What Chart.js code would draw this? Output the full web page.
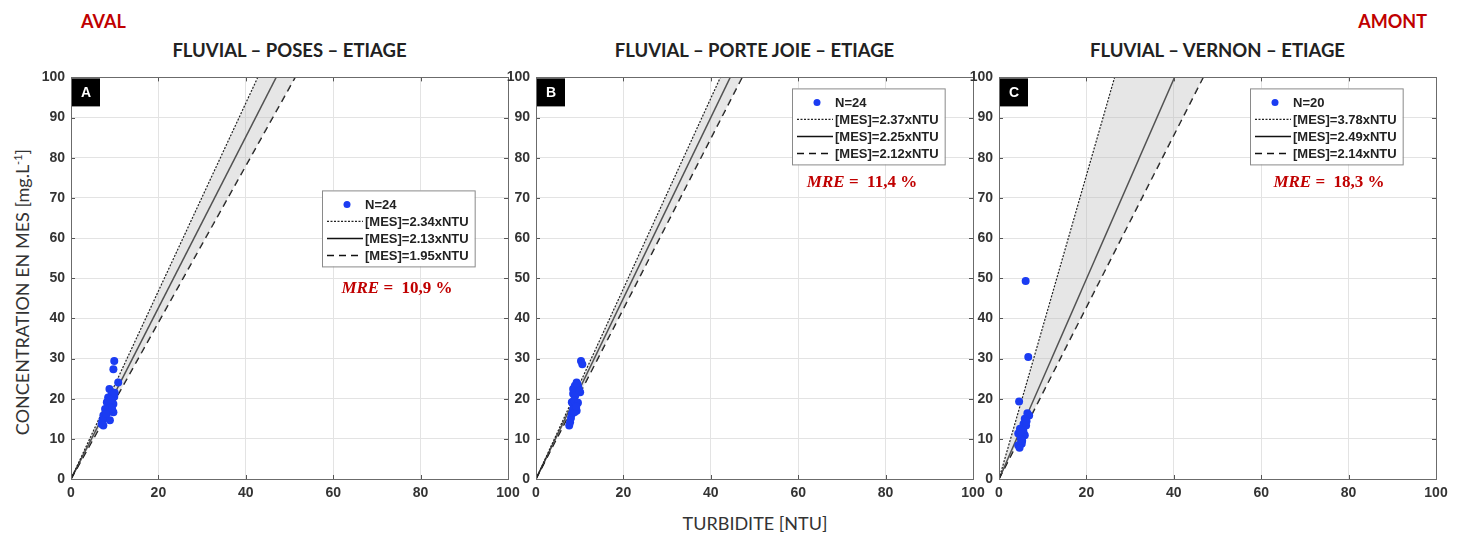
<!DOCTYPE html>
<html>
<head>
<meta charset="utf-8">
<script src="https://cdn.jsdelivr.net/npm/chart.js@4.4.1/dist/chart.umd.min.js"></script>
<style>
  body { margin: 0; background: #fff; width: 1464px; height: 537px; position: relative; overflow: hidden; font-family: 'Lato', sans-serif; }
  canvas { position: absolute; top: 63px; }
  .titre { position: absolute; top: 38px; width: 437px; text-align: center; font: bold 18.5px 'Lato'; color: #222; line-height: 24px; }
  .rive { position: absolute; top: 9px; font: bold 18px 'Lato'; color: #c00000; line-height: 24px; }
  .axe-x { position: absolute; top: 511px; left: 555px; width: 400px; text-align: center; font: 18px 'Lato'; color: #333; line-height: 24px; }
  .axe-y { position: absolute; top: 278px; left: -180px; width: 400px; text-align: center; font: 18px 'Lato'; color: #333; line-height: 24px; transform: rotate(-90deg); }
</style>
</head>
<body>
<div class="rive" style="left:81px">AVAL</div>
<div class="rive" style="right:37px">AMONT</div>
<div class="titre" style="left:71px" id="t0"></div>
<div class="titre" style="left:536px" id="t1"></div>
<div class="titre" style="left:999px" id="t2"></div>
<div class="axe-y">CONCENTRATION EN MES [mg.L<sup style="font-size:11px">-1</sup>]</div>
<div class="axe-x">TURBIDITE [NTU]</div>
<canvas id="g0" width="497" height="446" style="left:31px"></canvas>
<canvas id="g1" width="497" height="446" style="left:496px"></canvas>
<canvas id="g2" width="497" height="446" style="left:959px"></canvas>
<script>
// ==============================
// DONNEES
// ==============================
const lettres = ['A', 'B', 'C'];
const titres = ['FLUVIAL – POSES – ETIAGE', 'FLUVIAL – PORTE JOIE – ETIAGE', 'FLUVIAL – VERNON – ETIAGE'];

const turbA = [9.9, 9.7, 10.8, 8.8, 9.3, 8.5, 9.9, 8.2, 9.7, 8.9, 7.8, 9.7, 8.5, 7.4, 8.0, 8.9, 7.2, 7.0, 7.4, 8.6, 9.1, 8.0, 9.4, 10.0];
const mesA  = [29.4, 27.3, 24.0, 22.4, 21.2, 20.3, 20.5, 19.1, 18.7, 17.9, 17.4, 16.6, 16.6, 15.8, 15.3, 14.6, 14.6, 13.7, 13.3, 19.5, 19.8, 16.2, 17.5, 21.5];

const turbB = [10.3, 10.6, 9.3, 8.9, 9.7, 8.5, 9.3, 8.5, 10.1, 9.0, 8.2, 9.0, 8.5, 9.3, 8.2, 7.8, 7.6, 9.5, 9.9, 8.7, 9.6, 8.8, 8.0, 9.2];
const mesB  = [29.4, 28.6, 24.0, 23.2, 22.8, 22.4, 21.6, 21.2, 21.6, 20.8, 19.1, 18.7, 17.4, 17.0, 16.2, 14.1, 13.3, 23.5, 22.0, 19.6, 19.0, 16.6, 15.2, 18.0];

const turbC = [6.1, 6.7, 4.6, 6.5, 6.9, 5.9, 5.6, 6.2, 4.8, 5.6, 4.4, 5.9, 5.0, 5.2, 4.4, 4.7, 5.5, 6.3, 5.3, 4.9];
const mesC  = [49.3, 30.4, 19.3, 16.4, 15.8, 15.0, 13.7, 13.3, 12.5, 11.7, 11.3, 10.9, 10.0, 8.8, 8.4, 7.8, 12.2, 14.4, 9.5, 11.9];

// pentes : borne haute (pointillé), ajustement (trait plein), borne basse (tirets)
const pentesA = [2.34, 2.13, 1.95];
const pentesB = [2.37, 2.25, 2.12];
const pentesC = [3.78, 2.49, 2.14];

const effectifs = [24, 24, 20];
const mre = ['10,9', '11,4', '18,3'];

const ticksX = [0, 20, 40, 60, 80, 100];
const ticksY = [0, 10, 20, 30, 40, 50, 60, 70, 80, 90, 100];

// ==============================
// STYLES
// ==============================
const bleu = '#1b3cf2';
const rouge = '#c00000';
const grille = '#e3e3e3';
const cadre = '#6b6b6b';
const styles = [
    { borderDash: [2, 1.5], borderWidth: 1.2, borderColor: '#222' },
    { borderDash: [], borderWidth: 1.5, borderColor: '#111' },
    { borderDash: [7, 5], borderWidth: 1.5, borderColor: '#111' }
];
// position de la légende et du MRE par rapport au coin haut-gauche du cadre
const posLegende = [[251, 113], [256, 11], [251, 11]];
const posMre = [[326, 211], [326, 105], [330, 105]];

const droite = p => [{ x: 0, y: 0 }, { x: ticksX[ticksX.length - 1], y: p * ticksX[ticksX.length - 1] }];

function dessinerLegende(ctx, x, y, n, pentes) {
    const lignes = ['N=' + n].concat(pentes.map(p => '[MES]=' + p.toFixed(2) + 'xNTU'));
    ctx.font = 'bold 13px "Liberation Sans"';
    const w = 43 + Math.max(...lignes.map(l => ctx.measureText(l).width)) + 6;
    const h = 76;
    ctx.fillStyle = '#fff';
    ctx.fillRect(x, y, w, h);
    ctx.strokeStyle = '#8a8a8a';
    ctx.lineWidth = 1;
    ctx.strokeRect(x + 0.5, y + 0.5, w, h);

    ctx.textBaseline = 'middle';
    ctx.textAlign = 'left';
    lignes.forEach((l, k) => {
        const yy = y + 14 + k * 17;
        if (k === 0) {
            ctx.fillStyle = bleu;
            ctx.beginPath();
            ctx.arc(x + 25, yy, 3.5, 0, Math.PI * 2);
            ctx.fill();
        } else {
            const s = styles[k - 1];
            ctx.save();
            ctx.setLineDash(s.borderDash);
            ctx.lineWidth = s.borderWidth;
            ctx.strokeStyle = s.borderColor;
            ctx.beginPath();
            ctx.moveTo(x + 5, yy);
            ctx.lineTo(x + 41, yy);
            ctx.stroke();
            ctx.restore();
        }
        ctx.fillStyle = '#222';
        ctx.fillText(l, x + 43, yy + 1);
    });
}

function dessinerMre(ctx, cx, cy, valeur) {
    const p1 = 'MRE';
    const p2 = ' =  ' + valeur + ' %';
    ctx.font = 'italic bold 17px "Liberation Serif"';
    const w1 = ctx.measureText(p1).width;
    ctx.font = 'bold 17px "Liberation Serif"';
    const w2 = ctx.measureText(p2).width;
    let x = cx - (w1 + w2) / 2;
    ctx.fillStyle = rouge;
    ctx.textBaseline = 'middle';
    ctx.textAlign = 'left';
    ctx.font = 'italic bold 17px "Liberation Serif"';
    ctx.fillText(p1, x, cy);
    ctx.font = 'bold 17px "Liberation Serif"';
    ctx.fillText(p2, x + w1, cy);
}

function creerGraphique(i, turb, mes, pentes) {
    document.getElementById('t' + i).textContent = titres[i];
    const ctx = document.getElementById('g' + i).getContext('2d');

    const points = turb.map((t, k) => ({ x: t, y: mes[k] }));

    new Chart(ctx, {
        type: 'scatter',
        data: {
            datasets: [
                { data: points, backgroundColor: bleu, borderWidth: 0, pointRadius: 4, pointHoverRadius: 4 },
                Object.assign({ data: droite(pentes[0]), showLine: true, pointRadius: 0,
                    fill: { target: 3, above: 'rgba(190,190,190,0.38)', below: 'rgba(190,190,190,0.38)' } }, styles[0]),
                Object.assign({ data: droite(pentes[1]), showLine: true, pointRadius: 0, fill: false }, styles[1]),
                Object.assign({ data: droite(pentes[2]), showLine: true, pointRadius: 0, fill: false }, styles[2])
            ]
        },
        options: {
            responsive: false,
            devicePixelRatio: 1,
            animation: false,
            layout: { padding: { top: 10, right: 20, left: 0, bottom: 0 } },
            plugins: { legend: { display: false }, tooltip: { enabled: false } },
            scales: {
                x: {
                    type: 'linear', min: 0, max: 100,
                    afterBuildTicks: s => { s.ticks = ticksX.map(v => ({ value: v })); },
                    afterFit: s => { s.height = 30; },
                    grid: { color: grille, drawTicks: false },
                    border: { display: false },
                    ticks: { color: '#333', padding: 6, font: { family: 'Liberation Sans', size: 14, weight: 'bold' } }
                },
                y: {
                    type: 'linear', min: 0, max: 100,
                    afterBuildTicks: s => { s.ticks = ticksY.map(v => ({ value: v })); },
                    afterFit: s => { s.width = 40; },
                    grid: { color: grille, drawTicks: false },
                    border: { display: false },
                    ticks: { color: '#333', padding: 6, font: { family: 'Liberation Sans', size: 14, weight: 'bold' } }
                }
            }
        },
        plugins: [{
            afterDraw(chart) {
                const { ctx, chartArea, scales } = chart;
                const { left, top, right, bottom } = chartArea;
                ctx.save();

                // petites graduations vers l'intérieur
                ctx.strokeStyle = '#555';
                ctx.lineWidth = 1;
                ctx.beginPath();
                ticksX.forEach(v => {
                    const px = Math.round(scales.x.getPixelForValue(v)) + 0.5;
                    ctx.moveTo(px, bottom); ctx.lineTo(px, bottom - 4);
                    ctx.moveTo(px, top); ctx.lineTo(px, top + 4);
                });
                ticksY.forEach(v => {
                    const py = Math.round(scales.y.getPixelForValue(v)) + 0.5;
                    ctx.moveTo(left, py); ctx.lineTo(left + 4, py);
                    ctx.moveTo(right, py); ctx.lineTo(right - 4, py);
                });
                ctx.stroke();

                // cadre
                ctx.strokeStyle = cadre;
                ctx.strokeRect(Math.round(left) + 0.5, Math.round(top) + 0.5, Math.round(right - left), Math.round(bottom - top));

                // lettre du panneau
                ctx.fillStyle = '#000';
                ctx.fillRect(left + 1, top + 1, 28, 28);
                ctx.fillStyle = '#fff';
                ctx.font = 'bold 14px "Liberation Sans"';
                ctx.textAlign = 'center';
                ctx.textBaseline = 'middle';
                ctx.fillText(lettres[i], left + 15, top + 16);

                dessinerLegende(ctx, left + posLegende[i][0], top + posLegende[i][1], effectifs[i], pentes);
                dessinerMre(ctx, left + posMre[i][0], top + posMre[i][1], mre[i]);

                ctx.restore();
            }
        }]
    });
}

creerGraphique(0, turbA, mesA, pentesA);
creerGraphique(1, turbB, mesB, pentesB);
creerGraphique(2, turbC, mesC, pentesC);
</script>
</body>
</html>
